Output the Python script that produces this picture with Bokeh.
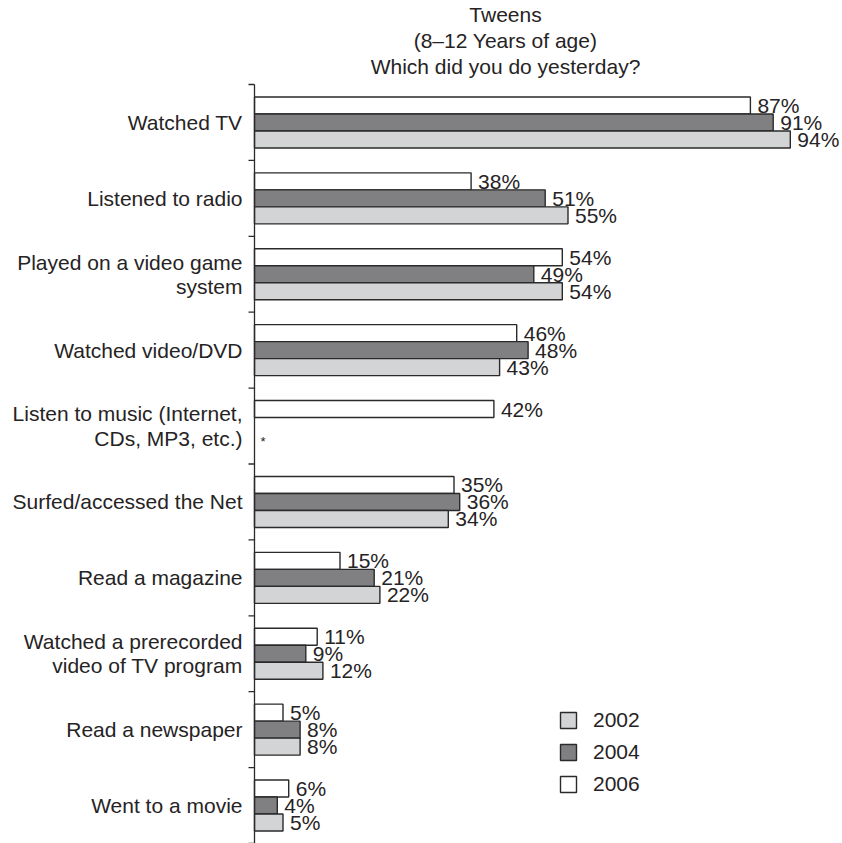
import math
from bokeh.plotting import figure
from bokeh.models import Range1d, Label, Legend, LegendItem, ColumnDataSource
from bokeh.core.properties import value
from bokeh.embed import file_html
from bokeh.resources import INLINE

# ---------------- data ----------------
categories = [
    "Watched TV",
    "Listened to radio",
    "Played on a video game\nsystem",
    "Watched video/DVD",
    "Listen to music (Internet,\nCDs, MP3, etc.)",
    "Surfed/accessed the Net",
    "Read a magazine",
    "Watched a prerecorded\nvideo of TV program",
    "Read a newspaper",
    "Went to a movie",
]
years = ["2006", "2004", "2002"]
pct_2006 = [87, 38, 54, 46, 42, 35, 15, 11, 5, 6]
pct_2004 = [91, 51, 49, 48, None, 36, 21, 9, 8, 4]
pct_2002 = [94, 55, 54, 43, None, 34, 22, 12, 8, 5]
title_lines = ["Tweens", "(8\u201312 Years of age)", "Which did you do yesterday?"]
missing_note = "*"

# ---------------- styling ----------------
W, H = 842, 843
FONT = "Liberation Sans"
FS = "21px"
TEXT = "#262324"
EDGE = "#2a2a2a"
AXIS_PX = 254          # pixel position of the value axis
PX_PER_PCT = 5.7       # horizontal scale
TOP_PX = 84            # top of the category area
n = len(categories)
ROW_PX = (H - TOP_PX) / n
BAR = 17 / ROW_PX      # bar thickness in row units

fills = {"2006": "#ffffff", "2004": "#808083", "2002": "#d3d4d6"}
offsets = {"2006": -BAR, "2004": 0.0, "2002": BAR}
series = {"2006": pct_2006, "2004": pct_2004, "2002": pct_2002}

p = figure(
    width=W, height=H,
    x_range=Range1d(-AXIS_PX / PX_PER_PCT, (W - AXIS_PX) / PX_PER_PCT),
    y_range=Range1d(start=n, end=-TOP_PX / ROW_PX),
    output_backend="svg", toolbar_location=None,
    x_axis_location=None, y_axis_location=None,
    min_border=0, outline_line_color=None,
    background_fill_color="white", border_fill_color="white",
)
p.xgrid.visible = False
p.ygrid.visible = False

renderers = {}
for yr in years:
    vals = series[yr]
    ys, vs, labels = [], [], []
    for i, v in enumerate(vals):
        if v is None:
            continue
        ys.append(i + 0.5 + offsets[yr])
        vs.append(v)
        labels.append(f"{v}%")
    src = ColumnDataSource(dict(y=ys, v=vs, label=labels))
    renderers[yr] = p.hbar(y="y", left=0, right="v", height=BAR, source=src,
                           fill_color=fills[yr], line_color=EDGE, line_width=1.4)
    p.text(x="v", y="y", text="label", source=src, x_offset=7,
           text_align="left", text_baseline="middle",
           text_font=value(FONT), text_font_size=FS, text_color=TEXT)

# category labels
p.text(x=[0] * n, y=[i + 0.5 for i in range(n)], text=categories, x_offset=-12,
       text_align="right", text_baseline="middle", text_line_height=1.05,
       text_font=value(FONT), text_font_size=FS, text_color=TEXT)

# note for missing years
miss_y = [i + 0.5 + BAR * 0.9 for i, v in enumerate(pct_2004) if v is None]
p.text(x=[0] * len(miss_y), y=miss_y, text=[missing_note] * len(miss_y), x_offset=6,
       text_align="left", text_baseline="middle",
       text_font=value(FONT), text_font_size="13px", text_color=TEXT)

# value axis line with ticks at category boundaries
p.segment(x0=[0], y0=[0], x1=[0], y1=[n], line_color=EDGE, line_width=1.3)
p.ray(x=[0] * (n + 1), y=list(range(n + 1)), length=6, length_units="screen",
      angle=math.pi, line_color=EDGE, line_width=1.3)

# titles
for k, t in enumerate(title_lines):
    p.add_layout(Label(x=505, y=H - 14 - 26 * k, x_units="screen", y_units="screen",
                       text=t, text_align="center", text_baseline="middle",
                       text_font=FONT, text_font_size=FS, text_color=TEXT))

legend = Legend(
    items=[LegendItem(label=yr, renderers=[renderers[yr]]) for yr in ["2002", "2004", "2006"]],
    location=(558, 47), orientation="vertical",
    glyph_width=20, glyph_height=20, label_standoff=15, spacing=8,
    padding=0, margin=0, border_line_color=None, background_fill_alpha=0,
    label_text_font=FONT, label_text_font_size=FS, label_text_color=TEXT,
    label_height=20,
)
p.add_layout(legend)

open("out.html", "w").write(file_html(p, INLINE))
